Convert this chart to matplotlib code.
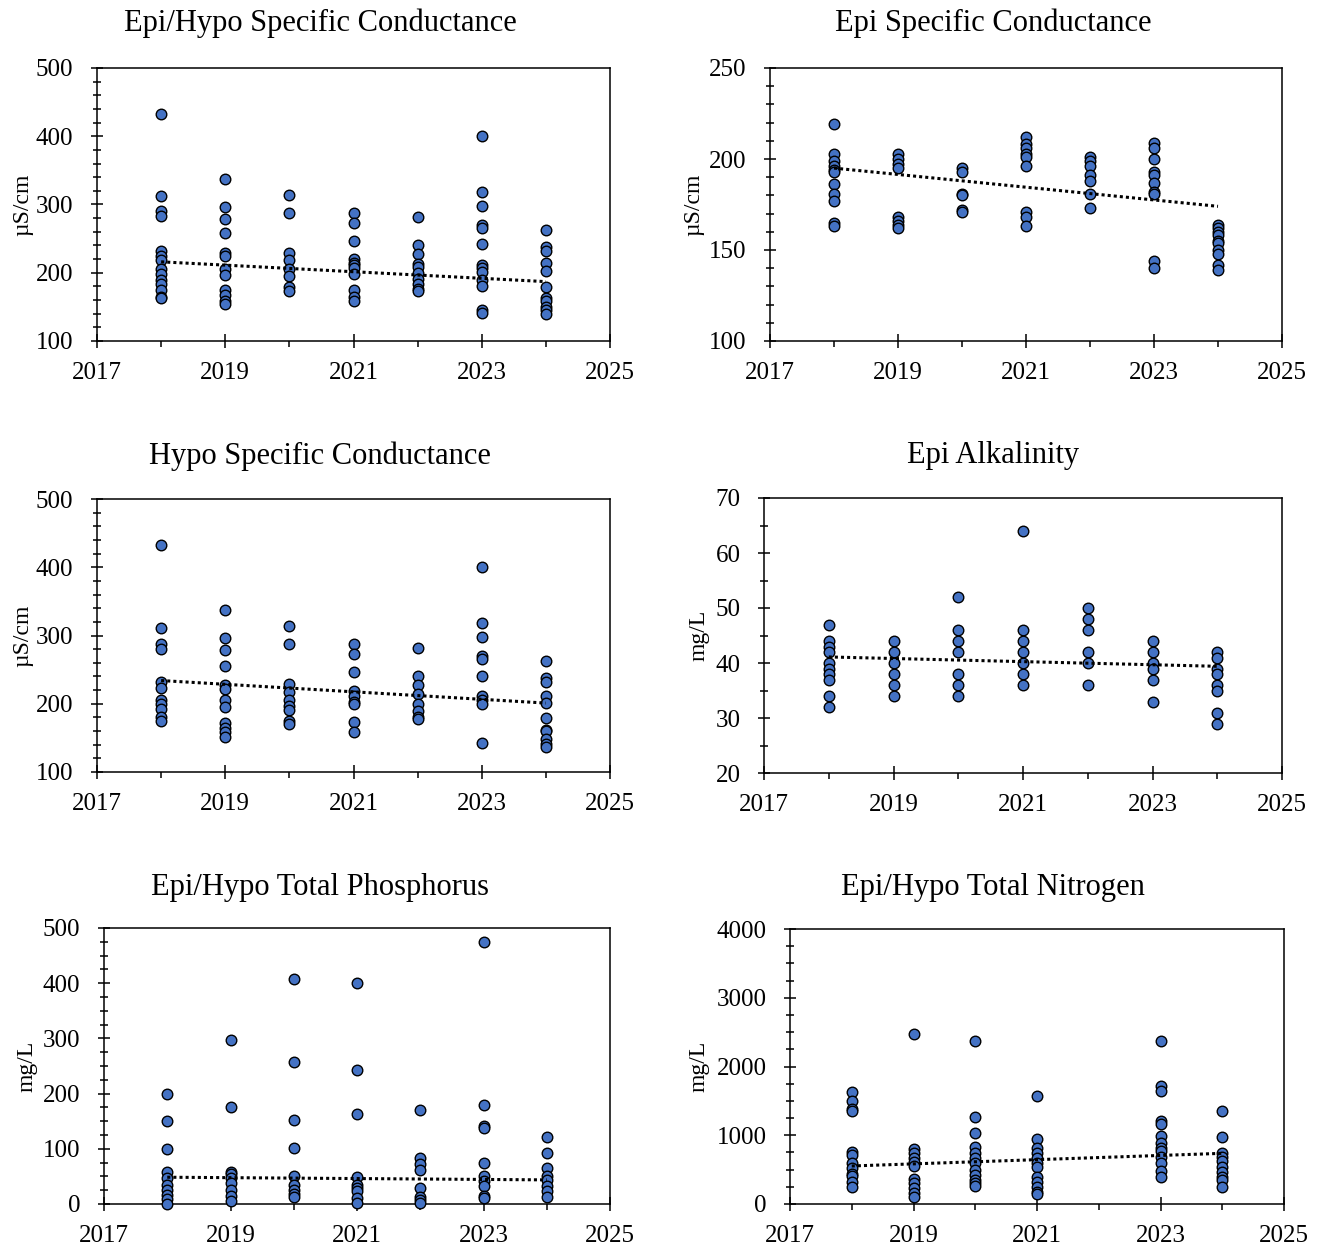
import numpy as np
import matplotlib.pyplot as plt
from matplotlib.ticker import MultipleLocator, FixedLocator

plt.rcParams['font.family'] = ['Liberation Serif', 'DejaVu Serif']

years = [2018, 2019, 2020, 2021, 2022, 2023, 2024]
trend_years = [2018, 2024]
xticks_major = [2017, 2019, 2021, 2023, 2025]

# Epi/Hypo specific conductance (uS/cm)
spc_all = [
    [433, 312, 290, 283, 232, 225, 218, 205, 198, 190, 183, 175, 165, 163],
    [337, 297, 279, 258, 229, 224, 206, 196, 174, 167, 159, 154],
    [314, 287, 229, 218, 205, 195, 179, 173],
    [287, 273, 247, 220, 215, 211, 207, 198, 174, 165, 158],
    [281, 241, 227, 213, 208, 199, 191, 184, 176, 173],
    [400, 319, 298, 270, 266, 242, 212, 207, 201, 189, 181, 145, 141],
    [263, 238, 232, 214, 203, 179, 163, 158, 150, 145, 140],
]
spc_all_trend = [216, 187]

# Epi specific conductance (uS/cm)
spc_epi = [
    [219, 203, 199, 196, 194, 193, 186, 181, 177, 165, 163],
    [203, 200, 197, 195, 168, 166, 164, 162],
    [195, 193, 181, 180, 172, 171],
    [212, 208, 206, 203, 201, 196, 171, 168, 163],
    [201, 199, 196, 191, 188, 181, 173],
    [209, 206, 200, 193, 191, 187, 182, 181, 144, 140],
    [164, 162, 160, 158, 155, 154, 150, 148, 142, 139],
]
spc_epi_trend = [195, 174]

# Hypo specific conductance (uS/cm)
spc_hypo = [
    [433, 311, 288, 280, 232, 223, 206, 199, 192, 180, 175],
    [337, 296, 279, 256, 228, 222, 206, 195, 172, 165, 158, 152],
    [314, 287, 229, 217, 205, 196, 191, 174, 171],
    [287, 273, 246, 218, 211, 202, 200, 173, 158],
    [281, 240, 227, 214, 200, 190, 180, 178],
    [400, 319, 298, 270, 266, 241, 212, 205, 200, 143],
    [262, 237, 232, 212, 201, 179, 162, 160, 149, 141, 137],
]
spc_hypo_trend = [234, 201]

# Epi alkalinity (mg/L)
alk_epi = [
    [47, 44, 43, 42, 40, 39, 38, 37, 34, 32],
    [44, 42, 40, 38, 36, 34],
    [52, 46, 44, 42, 38, 36, 34],
    [64, 46, 44, 42, 40, 38, 36],
    [50, 48, 46, 42, 40, 36],
    [44, 42, 40, 39, 37, 33],
    [42, 41, 39, 38, 36, 35, 31, 29],
]
alk_epi_trend = [41.1, 39.4]

# Epi/Hypo total phosphorus (mg/L)
tp_all = [
    [200, 150, 100, 58, 47, 35, 26, 16, 9, 0],
    [297, 175, 58, 55, 47, 38, 26, 15, 6],
    [408, 257, 152, 101, 50, 35, 26, 19, 13],
    [400, 243, 163, 49, 35, 29, 24, 10, 1],
    [171, 84, 72, 61, 29, 13, 7, 2],
    [474, 179, 141, 138, 75, 50, 41, 32, 15, 10],
    [121, 93, 65, 50, 43, 33, 23, 13],
]
tp_all_trend = [48.5, 43.7]

# Epi/Hypo total nitrogen (mg/L), no 2022 samples
tn_years = [2018, 2019, 2020, 2021, 2023, 2024]
tn_all = [
    [1624, 1503, 1377, 1357, 751, 713, 601, 519, 436, 407, 325, 252],
    [2468, 795, 737, 664, 616, 553, 359, 300, 228, 155, 107],
    [2366, 1270, 1028, 834, 747, 664, 592, 495, 422, 349, 300, 262],
    [1576, 945, 810, 737, 664, 601, 533, 398, 325, 252, 179, 145],
    [2376, 1721, 1644, 1207, 1159, 989, 892, 810, 771, 688, 601, 485, 388],
    [1358, 979, 747, 688, 630, 543, 470, 398, 349, 252],
]
tn_all_trend = [553, 737]

W, H = 1320, 1247
fig = plt.figure(figsize=(W / 100, H / 100), dpi=100)

# title, ylabel, years, values, trend, ylim, major, minor, plot box (px),
# title x, ylabel right edge x, title y
panels = [
    ("Epi/Hypo Specific Conductance", "µS/cm", years, spc_all, spc_all_trend,
     (100, 500), 100, 20, (97, 68, 610, 341), 320, 33, 23),
    ("Epi Specific Conductance", "µS/cm", years, spc_epi, spc_epi_trend,
     (100, 250), 50, 10, (770, 68, 1282, 341), 993, 704, 23),
    ("Hypo Specific Conductance", "µS/cm", years, spc_hypo, spc_hypo_trend,
     (100, 500), 100, 20, (97, 499, 610, 772), 320, 33, 456),
    ("Epi Alkalinity", "mg/L", years, alk_epi, alk_epi_trend,
     (20, 70), 10, 5, (764, 498, 1282, 773), 993, 710, 456),
    ("Epi/Hypo Total Phosphorus", "mg/L", years, tp_all, tp_all_trend,
     (0, 500), 100, 25, (104, 928, 610, 1204), 320, 38, 888),
    ("Epi/Hypo Total Nitrogen", "mg/L", tn_years, tn_all, tn_all_trend,
     (0, 4000), 1000, 250, (790, 929, 1284, 1204), 993, 710, 888),
]

for title, ylab, yrs, vals, trend, ylim, major, minor, box, tx, lx, ty in panels:
    x0, y0, x1, y1 = box
    ax = fig.add_axes([x0 / W, 1 - y1 / H, (x1 - x0) / W, (y1 - y0) / H])

    xs = np.concatenate([[yr] * len(v) for yr, v in zip(yrs, vals)])
    ys = np.concatenate(vals)
    ax.plot(xs, ys, 'o', ms=7.6, mfc='#4472C4', mec='black', mew=1.0,
            zorder=3, clip_on=False)
    ax.plot(trend_years, trend, color='black', lw=2.2,
            linestyle=(0, (1, 1)), zorder=4)

    ax.set_xlim(2017, 2025)
    ax.set_ylim(*ylim)
    ax.xaxis.set_major_locator(FixedLocator(xticks_major))
    ax.xaxis.set_minor_locator(MultipleLocator(1))
    ax.yaxis.set_major_locator(MultipleLocator(major))
    ax.yaxis.set_minor_locator(MultipleLocator(minor))

    ax.tick_params(axis='x', which='major', direction='inout', length=10,
                   width=1.1, pad=10, labelsize=18)
    ax.tick_params(axis='x', which='minor', direction='out', length=4, width=1.1)
    ax.tick_params(axis='y', which='major', direction='inout', length=8,
                   width=1.1, pad=13, labelsize=18)
    ax.tick_params(axis='y', which='minor', direction='inout', length=6, width=1.1)
    for sp in ax.spines.values():
        sp.set_linewidth(1.1)

    ax.set_ylabel(ylab, fontsize=17)
    ax.yaxis.set_label_coords((lx - x0) / (x1 - x0), 0.5)

    fig.text(tx / W, 1 - ty / H, title, fontsize=22, ha='center', va='center')

fig.savefig("out.png", dpi=100)
